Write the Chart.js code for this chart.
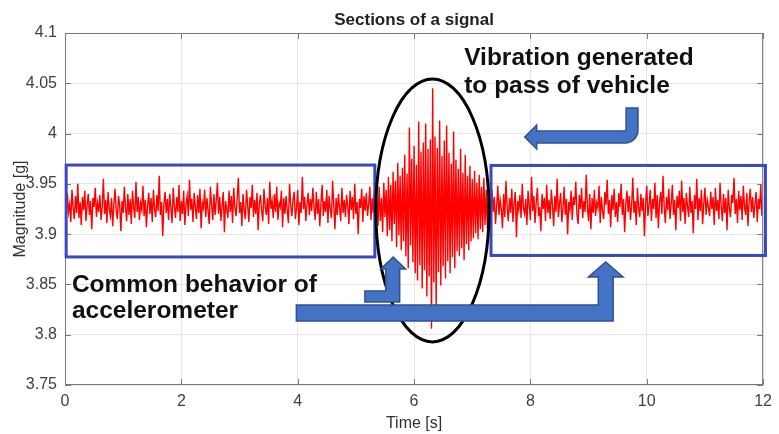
<!DOCTYPE html>
<html lang="en">
<head>
  <meta charset="UTF-8">
  <title>Sections of a signal</title>
  <script src="https://cdn.jsdelivr.net/npm/chart.js"></script>
  <style>
    body { margin: 0; background: #fff; }
    canvas { display: block; }
  </style>
</head>
<body>
  <canvas id="signalChart" width="779" height="434"></canvas>

  <script>
    // accelerometer samples, one every 20 ms
    const sampleStep = 0.02;

    // 0 .. 5.34 s
    const restBefore = [
      3.935, 3.918, 3.941, 3.922, 3.930, 3.912, 3.944, 3.926, 3.915, 3.938,
      3.921, 3.950, 3.916, 3.932, 3.909, 3.937, 3.924, 3.943, 3.913, 3.929,
      3.940, 3.919, 3.933, 3.905, 3.936, 3.927, 3.946, 3.917, 3.931, 3.922,
      3.939, 3.914, 3.928, 3.955, 3.920, 3.934, 3.911, 3.942, 3.925, 3.918,
      3.936, 3.908, 3.930, 3.945, 3.923, 3.915, 3.938, 3.929, 3.903, 3.933,
      3.921, 3.947, 3.926, 3.913, 3.940, 3.919, 3.935, 3.910, 3.943, 3.927,
      3.916, 3.952, 3.922, 3.937, 3.914, 3.931, 3.924, 3.948, 3.918, 3.934,
      3.907, 3.929, 3.941, 3.920, 3.936, 3.912, 3.944, 3.925, 3.917, 3.939,
      3.923, 3.958, 3.919, 3.932, 3.898, 3.930, 3.942, 3.921, 3.935, 3.914,
      3.940, 3.926, 3.911, 3.946, 3.928, 3.916, 3.937, 3.922, 3.949, 3.913,
      3.933, 3.920, 3.943, 3.909, 3.930, 3.938, 3.918, 3.954, 3.924, 3.935,
      3.912, 3.941, 3.927, 3.915, 3.939, 3.921, 3.945, 3.906, 3.931, 3.926,
      3.944, 3.917, 3.936, 3.923, 3.910, 3.947, 3.929, 3.914, 3.940, 3.919,
      3.934, 3.951, 3.920, 3.937, 3.913, 3.928, 3.942, 3.902, 3.933, 3.925,
      3.916, 3.943, 3.922, 3.938, 3.911, 3.946, 3.927, 3.918, 3.935, 3.956,
      3.921, 3.932, 3.908, 3.940, 3.924, 3.915, 3.944, 3.929, 3.912, 3.937,
      3.926, 3.949, 3.917, 3.934, 3.920, 3.941, 3.904, 3.930, 3.939, 3.923,
      3.913, 3.945, 3.928, 3.919, 3.936, 3.910, 3.952, 3.925, 3.933, 3.916,
      3.940, 3.922, 3.947, 3.914, 3.931, 3.927, 3.943, 3.907, 3.936, 3.920,
      3.938, 3.924, 3.911, 3.950, 3.929, 3.918, 3.934, 3.942, 3.915, 3.926,
      3.944, 3.909, 3.932, 3.921, 3.957, 3.925, 3.937, 3.913, 3.930, 3.941,
      3.919, 3.935, 3.923, 3.946, 3.927, 3.914, 3.942, 3.920, 3.935, 3.908,
      3.931, 3.949, 3.918, 3.933, 3.922, 3.944, 3.911, 3.938, 3.925, 3.916,
      3.953, 3.929, 3.905, 3.936, 3.919, 3.940, 3.926, 3.913, 3.946, 3.921,
      3.934, 3.917, 3.939, 3.928, 3.910, 3.943, 3.924, 3.937, 3.915, 3.950,
      3.920, 3.932, 3.900, 3.935, 3.926, 3.945, 3.912, 3.938, 3.923, 3.941,
      3.918, 3.930, 3.947, 3.914, 3.936, 3.921, 3.944, 3.929
    ];

    // 5.36 .. 7.28 s, vehicle passing
    const vehiclePass = [
      3.941, 3.908, 3.947, 3.913, 3.936, 3.902, 3.951, 3.917, 3.944, 3.898,
      3.957, 3.904, 3.949, 3.893, 3.962, 3.910, 3.953, 3.887, 3.971, 3.899,
      3.958, 3.884, 3.966, 3.893, 3.979, 3.878, 3.960, 3.866, 4.006, 3.889,
      3.975, 3.872, 3.988, 3.861, 3.969, 3.854, 4.012, 3.869, 3.982, 3.846,
      3.991, 3.864, 4.010, 3.838, 3.985, 3.858, 3.994, 3.806, 4.045, 3.852,
      3.997, 3.826, 3.986, 3.862, 4.013, 3.849, 3.978, 3.868, 3.993, 3.856,
      4.008, 3.873, 3.981, 3.861, 3.970, 3.877, 4.002, 3.866, 3.974, 3.883,
      3.965, 3.878, 3.985, 3.886, 3.961, 3.874, 3.979, 3.890, 3.958, 3.884,
      3.968, 3.893, 3.955, 3.896, 3.963, 3.901, 3.951, 3.895, 3.959, 3.905,
      3.947, 3.902, 3.956, 3.909, 3.944, 3.906, 3.939
    ];

    // 7.30 .. 12 s
    const restAfter = [
      3.931, 3.915, 3.944, 3.922, 3.937, 3.910, 3.928, 3.948, 3.919, 3.934,
      3.925, 3.906, 3.940, 3.917, 3.953, 3.927, 3.913, 3.936, 3.921, 3.945,
      3.912, 3.930, 3.942, 3.897, 3.933, 3.924, 3.939, 3.916, 3.950, 3.926,
      3.920, 3.935, 3.909, 3.943, 3.929, 3.914, 3.957, 3.923, 3.938, 3.911,
      3.932, 3.946, 3.918, 3.927, 3.903, 3.940, 3.925, 3.936, 3.913, 3.949,
      3.921, 3.934, 3.915, 3.944, 3.928, 3.908, 3.938, 3.922, 3.955, 3.917,
      3.930, 3.941, 3.912, 3.926, 3.947, 3.919, 3.935, 3.900, 3.932, 3.924,
      3.943, 3.914, 3.937, 3.929, 3.952, 3.920, 3.910, 3.939, 3.925, 3.946,
      3.916, 3.933, 3.922, 3.959, 3.927, 3.913, 3.940, 3.905, 3.936, 3.921,
      3.944, 3.918, 3.931, 3.926, 3.948, 3.911, 3.937, 3.923, 3.915, 3.942,
      3.929, 3.954, 3.920, 3.934, 3.907, 3.939, 3.924, 3.945, 3.917, 3.932,
      3.912, 3.941, 3.927, 3.950, 3.919, 3.935, 3.902, 3.930, 3.943, 3.922,
      3.938, 3.914, 3.928, 3.956, 3.921, 3.933, 3.909, 3.946, 3.926, 3.917,
      3.940, 3.923, 3.936, 3.898, 3.931, 3.948, 3.918, 3.929, 3.944, 3.913,
      3.935, 3.925, 3.951, 3.916, 3.939, 3.906, 3.932, 3.942, 3.920, 3.958,
      3.927, 3.911, 3.937, 3.924, 3.945, 3.915, 3.930, 3.949, 3.919, 3.934,
      3.904, 3.938, 3.926, 3.943, 3.913, 3.953, 3.922, 3.936, 3.910, 3.941,
      3.928, 3.917, 3.947, 3.921, 3.933, 3.901, 3.939, 3.925, 3.955, 3.914,
      3.936, 3.923, 3.944, 3.910, 3.930, 3.946, 3.919, 3.934, 3.927, 3.918,
      3.942, 3.925, 3.937, 3.909, 3.946, 3.923, 3.934, 3.915, 3.951, 3.928,
      3.913, 3.940, 3.921, 3.936, 3.904, 3.944, 3.926, 3.917, 3.939, 3.931,
      3.956, 3.920, 3.935, 3.911, 3.943, 3.924, 3.938, 3.914, 3.948, 3.927,
      3.919, 3.941, 3.908, 3.933, 3.945, 3.922, 3.937, 3.916, 3.930, 3.942,
      3.912, 3.935, 3.925, 3.949, 3.918, 3.932
    ];

    const xTickValues = [0, 2, 4, 6, 8, 10, 12];
    const yTickValues = [3.75, 3.8, 3.85, 3.9, 3.95, 4, 4.05, 4.1];
    const yTickLabels = ['3.75', '3.8', '3.85', '3.9', '3.95', '4', '4.05', '4.1'];

    const signal = restBefore.concat(vehiclePass, restAfter)
      .map((v, i) => ({ x: +(i * sampleStep).toFixed(3), y: v }));

    const FONT = '"Liberation Sans", Arial, sans-serif';

    // box, inward ticks, title and the hand-drawn callouts
    const overlay = {
      id: 'overlay',
      afterDatasetsDraw(chart) {
        const { ctx, chartArea: ca, scales: { x, y } } = chart;
        const X = v => x.getPixelForValue(v);
        const Y = v => y.getPixelForValue(v);
        ctx.save();

        // axes box with matlab style ticks
        ctx.strokeStyle = '#7a7a7a';
        ctx.lineWidth = 1;
        ctx.strokeRect(ca.left + 0.5, ca.top + 0.5, ca.right - ca.left - 1, ca.bottom - ca.top - 1);
        ctx.beginPath();
        xTickValues.forEach(t => {
          const p = Math.round(X(t)) + 0.5;
          ctx.moveTo(p, ca.bottom); ctx.lineTo(p, ca.bottom - 6);
          ctx.moveTo(p, ca.top); ctx.lineTo(p, ca.top + 6);
        });
        yTickValues.forEach(t => {
          const p = Math.round(Y(t)) + 0.5;
          ctx.moveTo(ca.left, p); ctx.lineTo(ca.left + 6, p);
          ctx.moveTo(ca.right, p); ctx.lineTo(ca.right - 6, p);
        });
        ctx.stroke();

        ctx.fillStyle = '#222';
        ctx.font = 'bold 17px ' + FONT;
        ctx.textAlign = 'center';
        ctx.textBaseline = 'alphabetic';
        ctx.fillText('Sections of a signal', (ca.left + ca.right) / 2, ca.top - 8);

        // quiet sections
        ctx.strokeStyle = '#3b48c4';
        ctx.lineWidth = 3;
        ctx.strokeRect(X(0.02), Y(3.9687), X(5.326) - X(0.02), Y(3.8773) - Y(3.9687));
        ctx.strokeRect(X(7.323), Y(3.9683), X(12.04) - X(7.323), Y(3.8788) - Y(3.9683));

        // vehicle pass
        const el = { l: X(5.343), r: X(7.289), t: Y(4.0543), b: Y(3.7928) };
        ctx.strokeStyle = '#000';
        ctx.beginPath();
        ctx.ellipse((el.l + el.r) / 2, (el.t + el.b) / 2, (el.r - el.l) / 2, (el.b - el.t) / 2, 0, 0, Math.PI * 2);
        ctx.stroke();

        ctx.fillStyle = '#4472c4';
        ctx.strokeStyle = '#2f528f';
        ctx.lineWidth = 1.5;

        // elbow arrow pointing left, under the top text
        const a = {
          sl: X(9.645), sr: X(9.849), top: Y(4.0254),
          st: Y(4.0026), sb: Y(3.9906),
          hb: X(8.108), tip: X(7.903), ht: Y(4.0085), hbt: Y(3.9847)
        };
        ctx.beginPath();
        ctx.moveTo(a.sl, a.top);
        ctx.lineTo(a.sr, a.top);
        ctx.arcTo(a.sr, a.sb, a.hb, a.sb, 13);
        ctx.lineTo(a.hb, a.sb);
        ctx.lineTo(a.hb, a.hbt);
        ctx.lineTo(a.tip, (a.st + a.sb) / 2);
        ctx.lineTo(a.hb, a.ht);
        ctx.lineTo(a.hb, a.st);
        ctx.arcTo(a.sl, a.st, a.sl, a.top, 2);
        ctx.closePath();
        ctx.fill(); ctx.stroke();

        // up arrows from the bottom text
        const upArrow = (barL, barT, barB, stemL, stemR, headBase, headL, headR, tipY) => {
          ctx.beginPath();
          ctx.moveTo(X(barL), Y(barT));
          ctx.lineTo(X(stemL), Y(barT));
          ctx.lineTo(X(stemL), Y(headBase));
          ctx.lineTo(X(headL), Y(headBase));
          ctx.lineTo((X(headL) + X(headR)) / 2, Y(tipY));
          ctx.lineTo(X(headR), Y(headBase));
          ctx.lineTo(X(stemR), Y(headBase));
          ctx.lineTo(X(stemR), Y(barB));
          ctx.lineTo(X(barL), Y(barB));
          ctx.closePath();
          ctx.fill(); ctx.stroke();
        };
        upArrow(5.155, 3.8435, 3.8325, 5.514, 5.753, 3.8653, 5.428, 5.855, 3.8773);
        upArrow(3.977, 3.8295, 3.8136, 9.167, 9.423, 3.8574, 8.996, 9.593, 3.8723);

        ctx.fillStyle = '#111';
        ctx.font = 'bold 24.5px ' + FONT;
        ctx.textAlign = 'left';
        ctx.fillText('Vibration generated', X(6.862), Y(4.0682));
        ctx.fillText('to pass of vehicle', X(6.862), Y(4.0403));
        ctx.fillText('Common behavior of', X(0.119), Y(3.8425));
        ctx.fillText('accelerometer', X(0.119), Y(3.8166));

        ctx.restore();
      }
    };

    new Chart(document.getElementById('signalChart'), {
      type: 'line',
      data: {
        datasets: [{
          data: signal,
          borderColor: '#ff0000',
          borderWidth: 1.4,
          pointRadius: 0,
          tension: 0
        }]
      },
      options: {
        responsive: false,
        animation: false,
        events: [],
        layout: { padding: { top: 33, right: 11, left: 0, bottom: 0 } },
        plugins: { legend: { display: false }, tooltip: { enabled: false } },
        scales: {
          x: {
            type: 'linear',
            min: 0,
            max: 12,
            afterBuildTicks: s => { s.ticks = xTickValues.map(v => ({ value: v })); },
            afterFit: s => { s.height = 49; },
            grid: { color: '#e6e6e6', drawTicks: false },
            border: { display: false },
            ticks: { padding: 7, color: '#404040', font: { family: FONT, size: 16 } },
            title: {
              display: true, text: 'Time [s]', color: '#303030',
              font: { family: FONT, size: 16 }, padding: { top: 0, bottom: 1 }
            }
          },
          y: {
            min: 3.75,
            max: 4.1,
            afterBuildTicks: s => { s.ticks = yTickValues.map(v => ({ value: v })); },
            afterFit: s => { s.width = 65; },
            grid: { color: '#e6e6e6', drawTicks: false },
            border: { display: false },
            ticks: {
              padding: 8, color: '#404040', font: { family: FONT, size: 16 },
              callback: v => yTickLabels[yTickValues.indexOf(v)] ?? String(v)
            },
            title: {
              display: true, text: 'Magnitude [g]', color: '#303030',
              font: { family: FONT, size: 16 }, padding: { top: 11, bottom: 0 }
            }
          }
        }
      },
      plugins: [overlay]
    });
  </script>
</body>
</html>
